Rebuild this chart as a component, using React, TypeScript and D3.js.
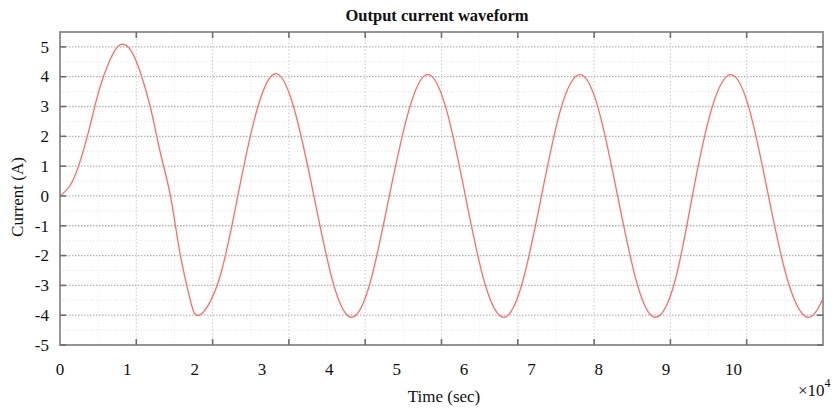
import * as d3 from "d3";

// waveform samples: time (x10^4 sec) and current (A)
const timeVals = [
  0, 0.15, 0.29, 0.44, 0.58, 0.73, 0.89, 1.06, 1.2, 1.35, 1.49, 1.64, 1.78, 1.93, 2.07,
  2.36, 2.64, 2.92, 3.2, 3.48, 3.77, 4.05, 4.33, 4.61, 4.89, 5.18, 5.46, 5.74, 6.02,
  6.3, 6.59, 6.87, 7.15, 7.43, 7.72, 8.0, 8.28, 8.56, 8.84, 9.13, 9.39, 9.67, 9.96,
  10.24, 10.52, 10.81, 11.1, 11.33,
];
const currentVals = [
  0, 0.35, 1.1, 2.3, 3.55, 4.5, 5.07, 4.85, 4.1, 2.9, 1.45, 0, -1.9, -3.45, -4.0,
  -2.82, 0, 2.85, 4.1, 2.9, 0, -2.87, -4.07, -2.87, 0, 2.87, 4.08, 2.88, 0,
  -2.87, -4.07, -2.87, 0, 2.87, 4.07, 2.88, 0, -2.87, -4.07, -2.87, 0, 2.87, 4.07,
  2.88, 0, -2.87, -4.07, -3.45,
];

const xLabelTicks = [0, 1, 2, 3, 4, 5, 6, 7, 8, 9, 10];
const xGridTicks = [1, 2, 3, 4, 5, 6, 7, 8, 9];
const yTicks = [-5, -4, -3, -2, -1, 0, 1, 2, 3, 4, 5];

const W = 840;
const H = 408;
const left = 60;
const right = 823;
const top = 32;
const bottom = 345;

const FONT = "'Liberation Serif', 'Times New Roman', serif";

export default function App() {
  // tick labels and grid divisions do not line up in the source figure
  const x = d3.scaleLinear().domain([0, 11.33]).range([left, right]);
  const xGrid = d3.scaleLinear().domain([0, 10]).range([left, right]);
  const y = d3.scaleLinear().domain([-5, 5.5]).range([bottom, top]);

  const pts = timeVals.map((t, i) => [t, currentVals[i]] as [number, number]);
  const line = d3
    .line<[number, number]>()
    .x((d) => x(d[0]))
    .y((d) => y(d[1]))
    .curve(d3.curveNatural);

  const minorY = d3.range(-4.5, 5.5, 1);
  const minorX = d3.range(0.5, 10, 1);

  return (
    <svg
      width={W}
      height={H}
      style={{ position: "absolute", left: 0, top: 0, background: "#fff" }}
    >
      <rect x={0} y={0} width={W} height={H} fill="#fff" />

      {/* minor grid */}
      {minorY.map((v) => (
        <line key={"my" + v} x1={left} x2={right} y1={y(v)} y2={y(v)}
          stroke="#e4e4e4" strokeWidth={1} strokeDasharray="1,2" />
      ))}
      {minorX.map((v) => (
        <line key={"mx" + v} x1={xGrid(v)} x2={xGrid(v)} y1={top} y2={bottom}
          stroke="#ececec" strokeWidth={1} strokeDasharray="1,2" />
      ))}

      {/* major grid */}
      {yTicks.map((v) => (
        <line key={"gy" + v} x1={left} x2={right} y1={y(v)} y2={y(v)}
          stroke="#b4b4b4" strokeWidth={1.3} strokeDasharray="1.5,1.5" />
      ))}
      {xGridTicks.map((v) => (
        <line key={"gx" + v} x1={xGrid(v)} x2={xGrid(v)} y1={top} y2={bottom}
          stroke="#cfcfcf" strokeWidth={1.1} strokeDasharray="1.5,2" />
      ))}

      {/* waveform */}
      <path d={line(pts) ?? ""} fill="none" stroke="#ff6b6b" strokeWidth={1.3} />

      {/* frame */}
      <rect x={left} y={top} width={right - left} height={bottom - top}
        fill="none" stroke="#8c8c8c" strokeWidth={1.8} />

      {/* ticks */}
      {yTicks.map((v) => (
        <g key={"ty" + v} stroke="#6e6e6e" strokeWidth={1.6}>
          <line x1={left} x2={left + 6} y1={y(v)} y2={y(v)} />
          <line x1={right - 6} x2={right} y1={y(v)} y2={y(v)} />
        </g>
      ))}
      {xGridTicks.map((v) => (
        <g key={"tx" + v} stroke="#6e6e6e" strokeWidth={1.6}>
          <line x1={xGrid(v)} x2={xGrid(v)} y1={bottom} y2={bottom - 6} />
          <line x1={xGrid(v)} x2={xGrid(v)} y1={top} y2={top + 6} />
        </g>
      ))}

      {/* tick labels */}
      <g fontFamily={FONT} fontSize={17} fill="#111">
        {yTicks.map((v) => (
          <text key={"ly" + v} x={49} y={y(v)} dy="0.34em" textAnchor="end">
            {v}
          </text>
        ))}
        {xLabelTicks.map((v) => (
          <text key={"lx" + v} x={x(v)} y={375} textAnchor="middle">
            {v}
          </text>
        ))}
      </g>

      {/* titles */}
      <text x={437} y={21} textAnchor="middle" fontFamily={FONT}
        fontSize={16.5} fontWeight="bold" fill="#111">
        Output current waveform
      </text>
      <text x={444} y={402} textAnchor="middle" fontFamily={FONT}
        fontSize={17} fill="#111">
        Time (sec)
      </text>
      <text transform="translate(23,197) rotate(-90)" textAnchor="middle"
        fontFamily={FONT} fontSize={17} fill="#111">
        Current (A)
      </text>
      <text x={798} y={396} fontFamily={FONT} fontSize={17} fill="#111">
        ×10
        <tspan dy={-9} fontSize={12}>4</tspan>
      </text>
    </svg>
  );
}
